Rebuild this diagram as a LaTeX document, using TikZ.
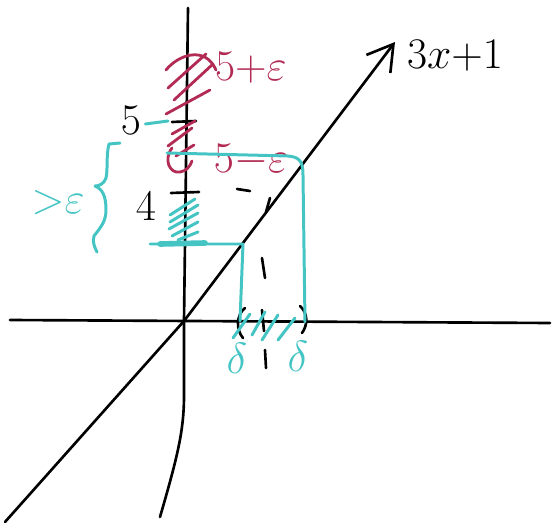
\documentclass[tikz,border=0pt]{standalone}
\usetikzlibrary{arrows.meta}
\definecolor{penred}{rgb}{.70,.17,.33}
\definecolor{pencyan}{rgb}{.27,.77,.77}

\begin{document}
\begin{tikzpicture}[x=0.02cm, y=-0.02cm, line cap=round, line join=round,
	   ax/.style={draw, line width=1.5pt},
	   rd/.style={draw=penred, line width=1.6pt},
	   cy/.style={draw=pencyan, line width=1.7pt},
	   lab/.style={inner sep=0pt, font=\fontsize{23}{27}\selectfont}]
	  \useasboundingbox (0,0) rectangle (552,524);
	  % axes and the line 3x+1
	  \coordinate (O) at (184,321);
	  \coordinate (ytop) at (188,8);
	  \coordinate (ybot) at (160,517);
	  \coordinate (xl) at (10,320);
	  \coordinate (xr) at (550,323);
	  \coordinate (dl) at (5,522);
	  \coordinate (tip) at (395,42);
	  \draw[ax] (ytop) -- (O) -- (184,395) .. controls (184,430) and (178,455) .. (ybot);
	  \draw[ax] (xl) -- (xr);
	  \draw[ax, -{Straight Barb[length=5mm, width=6mm]}] (dl) -- (O) -- (tip);
	  \node[lab, font=\fontsize{30}{34}\selectfont] (fx) at (455,56) {$3x{+}1$};
	  \draw[ax] (172,122) -- (196,121); \draw[ax] (171,193) -- (199,192);
	  \node[lab] (five) at (131,120) {$5$};
	  \node[lab, font=\fontsize{27}{31}\selectfont] (four) at (146,206) {$4$};
	  % dashes from 4 and 1
	  \foreach \xa/\ya/\xb/\yb in {237/189/250/191, 270/198/266/212, 262/258/265/278, 262/310/264/331, 265/350/266/368}
	    \draw[ax] (\xa,\ya) -- (\xb,\yb);
	  \draw[ax] (245,308) .. controls (236,315) and (236,330) .. (243,338);
	  \draw[ax] (300,306) .. controls (308,313) and (308,325) .. (302,333);
	  % 5 +- eps
	  \draw[rd] (166,70) .. controls (178,55) and (205,45) .. (216,70);
	  \draw[rd] (172,148) .. controls (163,160) and (170,174) .. (180,172) .. controls (186,171) and (190,167) .. (192,161);
	  \foreach \xa/\ya/\xb/\yb in {168/88/206/54, 174/100/213/64, 166/114/210/90, 172/134/195/121, 168/146/192/128, 176/156/194/145}
	    \draw[rd] (\xa,\ya) -- (\xb,\yb);
	  \node[lab, text=penred] (upper) at (251,68) {$5{+}\varepsilon$};
	  \node[lab, text=penred] (lower) at (251,160) {$5{-}\varepsilon$};
	  % delta
	  \draw[cy] (five.east) ++(4,4) -- (168,121);
	  \draw[cy] (167,153) -- (288,156) .. controls (300,157) and (303,162) .. (303,175) -- (305,322);
	  \draw[cy] (150,244) -- (243,244) -- (240,321);
	  \draw[cy, line width=3.2pt] (160,244) -- (205,243);
	  \foreach \xa/\ya/\xb/\yb in {170/215/195/199, 170/222/198/205, 169/229/198/213, 172/236/198/222, 178/240/198/232, 233/338/250/314, 252/335/265/312, 262/340/278/315, 278/340/295/318}
	    \draw[cy] (\xa,\ya) -- (\xb,\yb);
	  \draw[cy] (120,143) -- (109,144) .. controls (106,155) and (108,170) .. (106,178) .. controls (104,184) and (99,186) .. (95,186) .. controls (102,189) and (106,195) .. (106,210) .. controls (106,222) and (100,228) .. (94,236) .. controls (92,242) and (95,248) .. (97,252);
	  \node[lab, text=pencyan] (gap) at (58,203) {${>}\varepsilon$};
	  \node[lab, text=pencyan, font=\fontsize{27}{31}\selectfont] (dl1) at (237,358) {$\delta$};
	  \node[lab, text=pencyan, font=\fontsize{27}{31}\selectfont] (dl2) at (298,356) {$\delta$};
	\end{tikzpicture}
\end{document}
